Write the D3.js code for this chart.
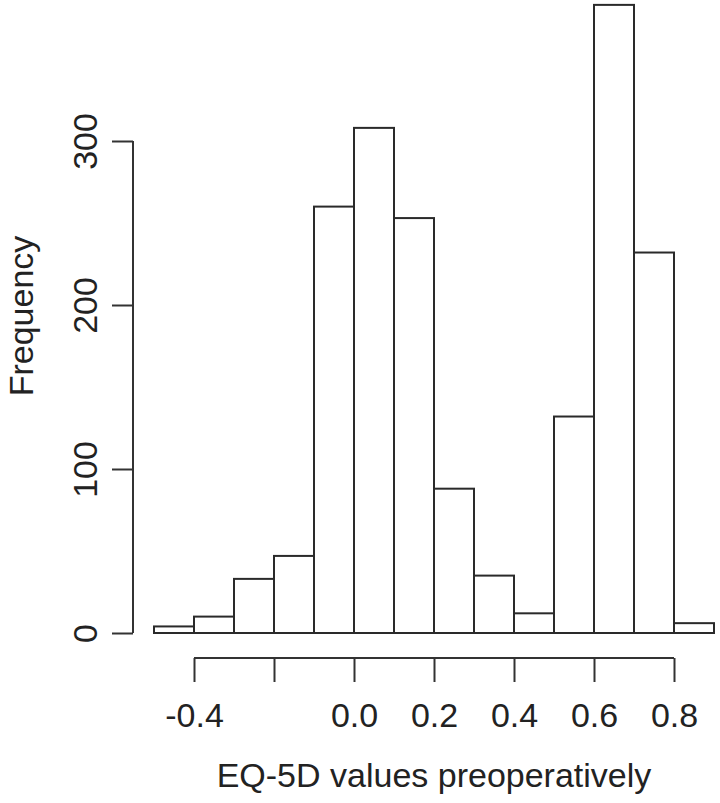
<!DOCTYPE html>
<html>
<head>
<meta charset="utf-8">
<script src="https://cdn.jsdelivr.net/npm/d3@7"></script>
<style>
  body { margin: 0; background: #fff; }
  text { font-family: "Liberation Sans", Arial, sans-serif; fill: #222; }
</style>
</head>
<body>
<svg id="hist"></svg>
<script>
// Histogram bins (lower edges, width 0.1) and counts
const binStarts = [-0.5, -0.4, -0.3, -0.2, -0.1, 0.0, 0.1, 0.2, 0.3, 0.4, 0.5, 0.6, 0.7, 0.8];
const counts = [4, 10, 33, 47, 260, 308, 253, 88, 35, 12, 132, 383, 232, 6];
const binWidth = 0.1;
const xTicks = [-0.4, -0.2, 0.0, 0.2, 0.4, 0.6, 0.8];
const xTickLabels = ["-0.4", "", "0.0", "0.2", "0.4", "0.6", "0.8"];
const yTicks = [0, 100, 200, 300];

const width = 720;
const height = 803;
const fontSize = 34;

const svg = d3.select("#hist")
    .attr("width", width)
    .attr("height", height)
    .attr("viewBox", [0, 0, width, height]);

// Scales
const x = d3.scaleLinear()
    .domain([-0.5, 0.9])
    .range([154, 714]);

const y = d3.scaleLinear()
    .domain([0, 300])
    .range([633, 141]);

const bins = binStarts.map((b, i) => ({x0: b, x1: b + binWidth, n: counts[i]}));

// Bars
svg.append("g")
    .attr("fill", "#fff")
    .attr("stroke", "#2a2a2a")
    .attr("stroke-width", 2)
  .selectAll("rect")
  .data(bins)
  .join("rect")
    .attr("x", d => x(d.x0))
    .attr("width", d => x(d.x1) - x(d.x0))
    .attr("y", d => y(d.n))
    .attr("height", d => y(0) - y(d.n));

// x-axis (R style, detached below the bars)
const xAxis = svg.append("g")
    .attr("transform", "translate(0,658)")
    .call(d3.axisBottom(x)
        .tickValues(xTicks)
        .tickFormat((d, i) => xTickLabels[i])
        .tickSize(24)
        .tickPadding(21))
    .call(g => g.select(".domain")
        .attr("d", `M${x(-0.4)},0H${x(0.8)}`));

xAxis.selectAll("line, path").attr("stroke", "#333").attr("stroke-width", 2);
xAxis.selectAll("text")
    .attr("font-size", fontSize)
    .attr("font-family", "Liberation Sans, Arial, sans-serif")
    .attr("fill", "#222");

svg.append("text")
    .attr("x", x(0.2))
    .attr("y", 787)
    .attr("text-anchor", "middle")
    .attr("font-size", fontSize)
    .text("EQ-5D values preoperatively");

// y-axis
const yAxis = svg.append("g")
    .attr("transform", "translate(133,0)")
    .call(d3.axisLeft(y)
        .tickValues(yTicks)
        .tickSize(21)
        .tickFormat(d3.format("d")))
    .call(g => g.select(".domain")
        .attr("d", `M0,${y(0)}V${y(300)}`));

yAxis.selectAll("line, path").attr("stroke", "#333").attr("stroke-width", 2);
yAxis.selectAll("text")
    .attr("font-size", fontSize)
    .attr("font-family", "Liberation Sans, Arial, sans-serif")
    .attr("fill", "#222")
    .attr("x", null)
    .attr("dy", null)
    .attr("text-anchor", "middle")
    .attr("transform", "translate(-36,0) rotate(-90)");

svg.append("text")
    .attr("transform", "translate(33,316) rotate(-90)")
    .attr("text-anchor", "middle")
    .attr("font-size", fontSize)
    .text("Frequency");
</script>
</body>
</html>
